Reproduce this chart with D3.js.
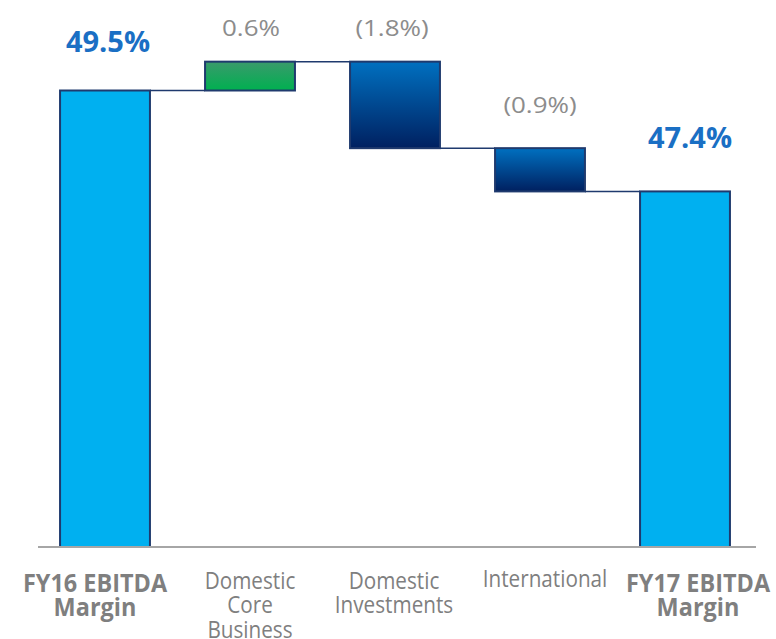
<!DOCTYPE html>
<html><head><meta charset="utf-8">
<script src="https://cdn.jsdelivr.net/npm/d3@7"></script>
<style>body{margin:0;background:#fff}svg{display:block}text{font-family:"Open Sans",sans-serif}</style>
</head><body><svg id="c" width="776" height="639"></svg>
<script>
const categories = [["FY16 EBITDA","Margin"],["Domestic","Core","Business"],["Domestic","Investments"],["International"],["FY17 EBITDA","Margin"]];
const kinds = ["total","delta","delta","delta","total"];
const values = [49.5, 0.6, -1.8, -0.9, 47.4];
const valueLabels = ["49.5%","0.6%","(1.8%)","(0.9%)","47.4%"];

// layout tweaks (pixels)
const valDx = [3, 1, -3, 0, 5];
const valGap = [39, 26, 26, 35, 43];
const catDx = [-10, 0, -1, 5, 13];
const catY = [592, 589, 589, 587, 592];

const svg = d3.select("#c");
const defs = svg.append("defs");
const g1 = defs.append("linearGradient").attr("id","gGreen").attr("x1",0).attr("y1",0).attr("x2",0).attr("y2",1);
g1.append("stop").attr("offset","0%").attr("stop-color","#3a9a6c");
g1.append("stop").attr("offset","100%").attr("stop-color","#00b050");
const g2 = defs.append("linearGradient").attr("id","gBlue").attr("x1",0).attr("y1",0).attr("x2",0).attr("y2",1);
g2.append("stop").attr("offset","0%").attr("stop-color","#0070c0");
g2.append("stop").attr("offset","100%").attr("stop-color","#002060");

const x = d3.scaleBand().domain(d3.range(categories.length)).range([32.5,757.5]).paddingInner(0.38).paddingOuter(0.19);
const y = d3.scaleLinear().domain([40,49.5]).range([547,90.5]);

let run = 0;
const bars = values.map((v,i)=>{
  let lo, hi, end;
  if (kinds[i]==="total"){ lo = y.domain()[0]; hi = v; run = v; end = v; }
  else { const s = run; run = run + v; lo = Math.min(s,run); hi = Math.max(s,run); end = run; }
  return {i, v, lo, hi, end, kind:kinds[i]};
});

for (let i=0;i<bars.length-1;i++){
  svg.append("line")
    .attr("x1", x(i)+x.bandwidth()).attr("x2", x(i+1))
    .attr("y1", y(bars[i].end)).attr("y2", y(bars[i].end))
    .attr("stroke","#1f3a6e").attr("stroke-width",1.5);
}

svg.selectAll("rect.bar").data(bars).join("rect").attr("class","bar")
  .attr("x", d=>x(d.i)).attr("width", x.bandwidth())
  .attr("y", d=>y(d.hi)).attr("height", d=>y(d.lo)-y(d.hi))
  .attr("fill", d=> d.kind==="total" ? "#00b0f0" : (d.v>0 ? "url(#gGreen)" : "url(#gBlue)"))
  .attr("stroke","#1f3a6e").attr("stroke-width",2);

svg.append("line").attr("x1",38).attr("x2",756).attr("y1",547).attr("y2",547)
  .attr("stroke","#a6a6a6").attr("stroke-width",2);

svg.selectAll("text.val").data(bars).join("text").attr("class","val")
  .attr("transform", d=>`translate(${x(d.i)+x.bandwidth()/2 + valDx[d.i]},${y(d.hi) - valGap[d.i]}) scale(${d.kind==="total"?1:1.18},1)`)
  .attr("text-anchor","middle")
  .attr("font-size", d=>d.kind==="total" ? 29 : 22)
  .attr("font-weight", d=>d.kind==="total" ? 700 : 400)
  .attr("fill", d=>d.kind==="total" ? "#1a6fc4" : "#8c8c8c")
  .text(d=>valueLabels[d.i]);

categories.forEach((lines,i)=>{
  const tot = kinds[i]==="total";
  const t = svg.append("text")
    .attr("transform", `translate(${x(i)+x.bandwidth()/2 + catDx[i]},${catY[i]}) scale(${tot?0.92:0.9},1)`)
    .attr("text-anchor","middle")
    .attr("font-size", tot ? 25.5 : 23)
    .attr("font-weight", tot ? 700 : 400)
    .attr("fill", "#7f7f7f");
  lines.forEach((l,j)=>{
    t.append("tspan").attr("x", 0).attr("dy", j===0?0:(tot?24:24.5)).text(l);
  });
});
</script></body></html>
